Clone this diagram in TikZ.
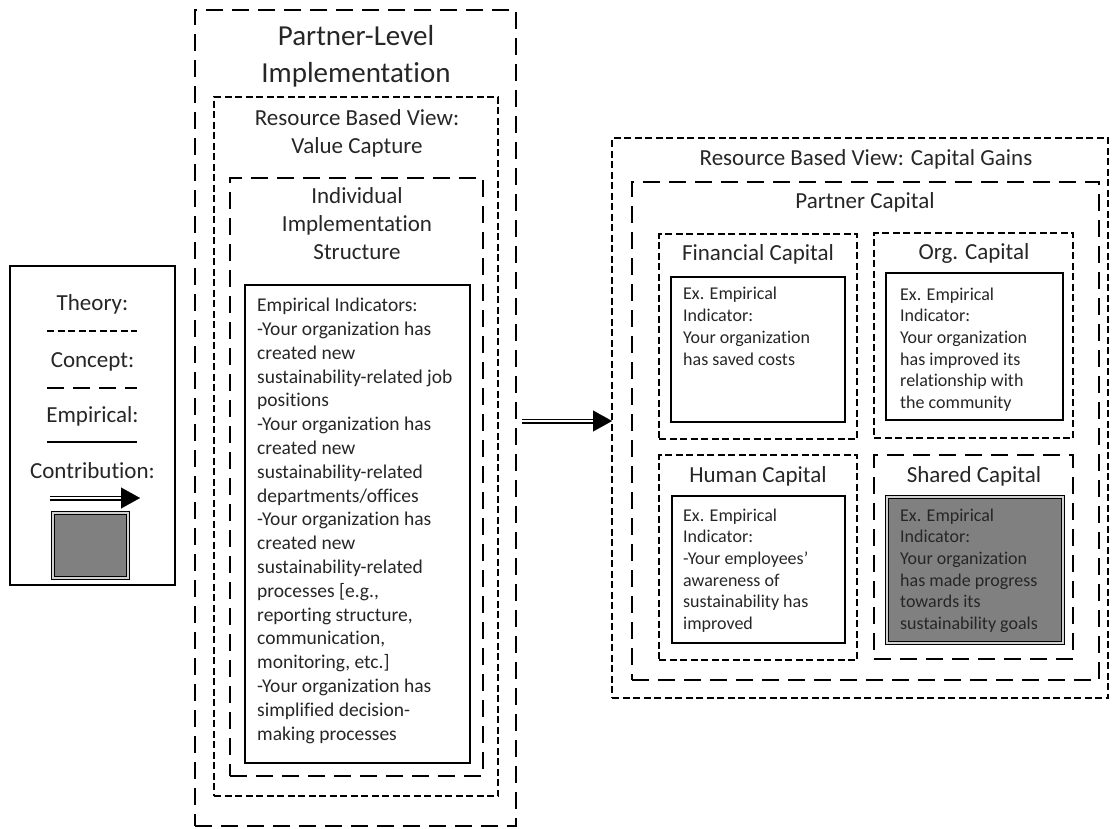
\documentclass[tikz,border=0pt]{standalone}
\usepackage{fontspec}
\setmainfont{Carlito}[Ligatures={NoCommon}]
\usetikzlibrary{arrows.meta}
\begin{document}
\begin{tikzpicture}[x=1pt,y=-1pt,
  box/.style={rectangle, inner sep=0pt, outer sep=0pt},
  theorybox/.style={box, draw, line width=1.8pt, dash pattern=on 7pt off 3.5pt},
  conceptbox/.style={box, draw, line width=2pt, dash pattern=on 17pt off 9pt},
  empbox/.style={box, draw, line width=2.2pt},
  sharedbox/.style={box, draw, fill=gray, line width=1pt, double=gray!35, double distance=1.2pt},
  legendbox/.style={box, draw, line width=1.8pt},
  % multi-line texts are placed by the baseline of their last line
  bigtitle/.style={inner sep=0pt, anchor=base, align=center, text=black!85, font=\fontsize{29}{37}\selectfont},
  title/.style={inner sep=0pt, anchor=base, align=center, text=black!85, font=\fontsize{23}{28}\selectfont},
  emptext/.style={inner sep=0pt, anchor=base west, align=left, text=black!85, font=\fontsize{19.5}{23.8}\selectfont},
  smalltext/.style={inner sep=0pt, anchor=base west, align=left, text=black!85, font=\fontsize{18}{21.7}\selectfont},
  theoryline/.style={line width=1.8pt, dash pattern=on 7pt off 3.5pt},
  conceptline/.style={line width=2pt, dash pattern=on 17pt off 9pt},
  empline/.style={line width=2pt},
  contribshaft/.style={draw=black, line width=1.5pt, double=white, double distance=2pt},
  contribhead/.style={-{Triangle[length=19pt,width=21pt]}, line width=0.1pt}
]
\useasboundingbox (0,0) rectangle (1112,828);

% ---------- legend ----------
\node[legendbox, minimum width=165pt, minimum height=319pt] (legend) at (92.5,425.5) {};
\node[title] (lgtheory) at (92.5,310) {Theory:};
\coordinate (lt1) at (47,331); \coordinate (lt2) at (137,331);
\draw[theoryline] (lt1) -- (lt2);
\node[title] (lgconcept) at (92.5,367) {Concept:};
\coordinate (lc1) at (47,388); \coordinate (lc2) at (137,388);
\draw[conceptline] (lc1) -- (lc2);
\node[title] (lgemp) at (92.5,422) {Empirical:};
\coordinate (le1) at (47,442); \coordinate (le2) at (137,442);
\draw[empline] (le1) -- (le2);
\node[title] (lgcontrib) at (92.5,478) {Contribution:};
\coordinate (la1) at (50,498); \coordinate (la2) at (140,498);
\draw[contribshaft, shorten >=17pt] (la1) -- (la2);
\draw[contribhead] ([xshift=-19pt]la2) -- (la2);
\node[sharedbox, minimum width=75pt, minimum height=65pt] (lgshared) at (90.5,545.5) {};

% ---------- partner-level implementation ----------
\node[conceptbox, minimum width=321pt, minimum height=816pt] (plevel) at (355.5,418) {};
\node[bigtitle] (pleveltxt) at (356,82) {Partner-Level\\Implementation};
\node[theorybox, minimum width=284pt, minimum height=699pt] (vcap) at (356,446.5) {};
\node[title] (vcaptxt) at (357,153) {Resource Based View:\\Value Capture};
\node[conceptbox, minimum width=253pt, minimum height=598pt] (iis) at (356.5,477) {};
\node[title] (iistxt) at (357,259) {Individual\\Implementation\\Structure};
\node[empbox, minimum width=225pt, minimum height=478pt] (emp) at (357.5,524) {};
\node[emptext] (emptxt) at (257,740) {Empirical Indicators:\\
-Your organization has\\
created new\\
sustainability-related job\\
positions\\
-Your organization has\\
created new\\
sustainability-related\\
departments/offices\\
-Your organization has\\
created new\\
sustainability-related\\
processes [e.g.,\\
reporting structure,\\
communication,\\
monitoring, etc.]\\
-Your organization has\\
simplified decision-\\
making processes};

% ---------- capital gains ----------
\node[theorybox, minimum width=496pt, minimum height=560pt] (rbv) at (860,418) {};
\node[title] (rbvtxt) at (866,165) {Resource Based View: Capital Gains};
\node[conceptbox, minimum width=467pt, minimum height=498pt] (pcap) at (865.5,431) {};
\node[title] (pcaptxt) at (865,208) {Partner Capital};

\node[theorybox, minimum width=198pt, minimum height=205pt] (fin) at (758,336.5) {};
\node[title] (fintxt) at (758,260) {Financial Capital};
\node[empbox, minimum width=174pt, minimum height=145pt] (finE) at (758,349.5) {};
\node[smalltext] (finEtxt) at (683,365) {Ex. Empirical\\Indicator:\\Your organization\\has saved costs};

\node[theorybox, minimum width=199pt, minimum height=205pt] (org) at (973.5,335.5) {};
\node[title] (orgtxt) at (974,259) {Org. Capital};
\node[empbox, minimum width=177pt, minimum height=147pt] (orgE) at (974.5,346.5) {};
\node[smalltext] (orgEtxt) at (900,408.5) {Ex. Empirical\\Indicator:\\Your organization\\has improved its\\relationship with\\the community};

\node[theorybox, minimum width=198pt, minimum height=205pt] (hum) at (758,557.5) {};
\node[title] (humtxt) at (758,482) {Human Capital};
\node[empbox, minimum width=173pt, minimum height=147pt] (humE) at (758.5,569.5) {};
\node[smalltext] (humEtxt) at (683,629.5) {Ex. Empirical\\Indicator:\\-Your employees’\\awareness of\\sustainability has\\improved};

\node[conceptbox, minimum width=199pt, minimum height=204pt] (shr) at (973.5,557) {};
\node[title] (shrtxt) at (974,482) {Shared Capital};
\node[sharedbox, minimum width=176pt, minimum height=146pt] (shrE) at (975,570) {};
\node[smalltext] (shrEtxt) at (900,629.5) {Ex. Empirical\\Indicator:\\Your organization\\has made progress\\towards its\\sustainability goals};

% ---------- contribution arrow ----------
\draw[contribshaft, shorten <=6pt, shorten >=17pt] ([yshift=-3pt]plevel.east) -- ([yshift=-3pt]rbv.west);
\draw[contribhead] ([xshift=-19pt,yshift=-3pt]rbv.west) -- ([yshift=-3pt]rbv.west);
\end{tikzpicture}
\end{document}
